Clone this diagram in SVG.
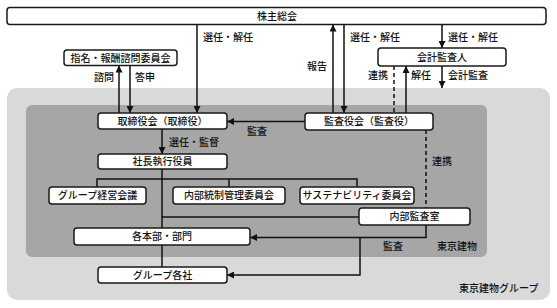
<svg xmlns="http://www.w3.org/2000/svg" width="557" height="308" viewBox="0 0 557 308">
<defs>
<marker id="ah" viewBox="0 0 7 7" refX="7" refY="3.5" markerWidth="7" markerHeight="7" markerUnits="userSpaceOnUse" orient="auto">
<path d="M0,0 L7,3.5 L0,7 z" fill="#111"/>
</marker>
<style>
.box{fill:#fff;stroke:#1a1a1a;stroke-width:1.5}
.t{font-family:"Noto Sans CJK JP","Noto Sans",sans-serif;font-size:10px;font-weight:500;fill:#111}
.m{text-anchor:middle}
.e{text-anchor:end}
.ln{fill:none;stroke:#111;stroke-width:1.5}
.dash{fill:none;stroke:#111;stroke-width:1.5;stroke-dasharray:4 3}
.arr{marker-end:url(#ah)}
</style>
</defs>
<g id="background">
<rect x="7" y="88" width="543" height="212" rx="10" fill="#d9d9d9"/>
<rect x="26" y="105" width="461" height="152" rx="6" fill="#a6a6a6"/>
</g>
<g id="connectors">
<line class="ln arr" x1="197" y1="24.5" x2="197" y2="113"/>
<line class="ln arr" x1="119" y1="113" x2="119" y2="65.5"/>
<line class="ln arr" x1="130" y1="65.5" x2="130" y2="113"/>
<line class="ln arr" x1="333" y1="113" x2="333" y2="24.5"/>
<line class="ln arr" x1="344" y1="24.5" x2="344" y2="113"/>
<line class="ln arr" x1="442" y1="24.5" x2="442" y2="48"/>
<line class="dash" x1="394" y1="66" x2="394" y2="113"/>
<line class="ln arr" x1="406" y1="113" x2="406" y2="66"/>
<line class="ln arr" x1="442" y1="66" x2="442" y2="88"/>
<line class="ln arr" x1="305" y1="121.5" x2="227" y2="121.5"/>
<line class="ln arr" x1="162" y1="129" x2="162" y2="154"/>
<line class="ln" x1="162" y1="169" x2="162" y2="267"/>
<polyline class="ln" points="97,187 97,179 357,179 357,187"/>
<line class="ln" x1="229" y1="179" x2="229" y2="187"/>
<line class="ln" x1="162" y1="217" x2="359" y2="217"/>
<line class="dash" x1="426" y1="130" x2="426" y2="208"/>
<polyline class="ln arr" points="426,225 426,237.5 250,237.5"/>
<polyline class="ln arr" points="360,237.5 360,275 227,275"/>
</g>
<g id="labels">
<text class="t" x="203" y="41">選任・解任</text>
<text class="t e" x="114" y="81">諮問</text>
<text class="t" x="135" y="81">答申</text>
<text class="t e" x="327" y="70">報告</text>
<text class="t" x="350" y="41">選任・解任</text>
<text class="t" x="448" y="41">選任・解任</text>
<text class="t e" x="388" y="79">連携</text>
<text class="t" x="411" y="79">解任</text>
<text class="t" x="448" y="79">会計監査</text>
<text class="t" x="247" y="135">監査</text>
<text class="t" x="169" y="146">選任・監督</text>
<text class="t" x="432" y="165">連携</text>
<text class="t" x="383" y="250">監査</text>
<text class="t" x="437" y="250">東京建物</text>
<text class="t" x="459" y="292">東京建物グループ</text>
</g>
<g id="n-kabunushi"><rect class="box" x="7" y="7.5" width="539" height="17" rx="3"/><text class="t m" x="277" y="19.8">株主総会</text></g>
<g id="n-shimei"><rect class="box" x="64" y="50" width="113" height="15.5" rx="3"/><text class="t m" x="120.5" y="61.5">指名・報酬諮問委員会</text></g>
<g id="n-kaikei"><rect class="box" x="378" y="48" width="128" height="18" rx="3"/><text class="t m" x="442" y="60.8">会計監査人</text></g>
<g id="n-torishimari"><rect class="box" x="98" y="113" width="129" height="16" rx="3"/><text class="t m" x="162.5" y="124.8">取締役会（取締役）</text></g>
<g id="n-kansayaku"><rect class="box" x="305" y="113" width="128" height="17" rx="3"/><text class="t m" x="369" y="125.3">監査役会（監査役）</text></g>
<g id="n-shacho"><rect class="box" x="98" y="154" width="129" height="15" rx="3"/><text class="t m" x="162.5" y="165.3">社長執行役員</text></g>
<g id="n-keiei"><rect class="box" x="49" y="187" width="97" height="17" rx="3"/><text class="t m" x="97.5" y="199.3">グループ経営会議</text></g>
<g id="n-naibutosei"><rect class="box" x="173" y="187" width="112" height="17" rx="3"/><text class="t m" x="229" y="199.3">内部統制管理委員会</text></g>
<g id="n-sustain"><rect class="box" x="300" y="187" width="114" height="17" rx="3"/><text class="t m" x="357" y="199.3">サステナビリティ委員会</text></g>
<g id="n-naibukansa"><rect class="box" x="359" y="208" width="111" height="17" rx="3"/><text class="t m" x="414.5" y="220.3">内部監査室</text></g>
<g id="n-honbu"><rect class="box" x="74" y="228" width="176" height="17" rx="3"/><text class="t m" x="162" y="240.3">各本部・部門</text></g>
<g id="n-group"><rect class="box" x="98" y="267" width="129" height="16" rx="3"/><text class="t m" x="162.5" y="278.8">グループ各社</text></g>
</svg>
